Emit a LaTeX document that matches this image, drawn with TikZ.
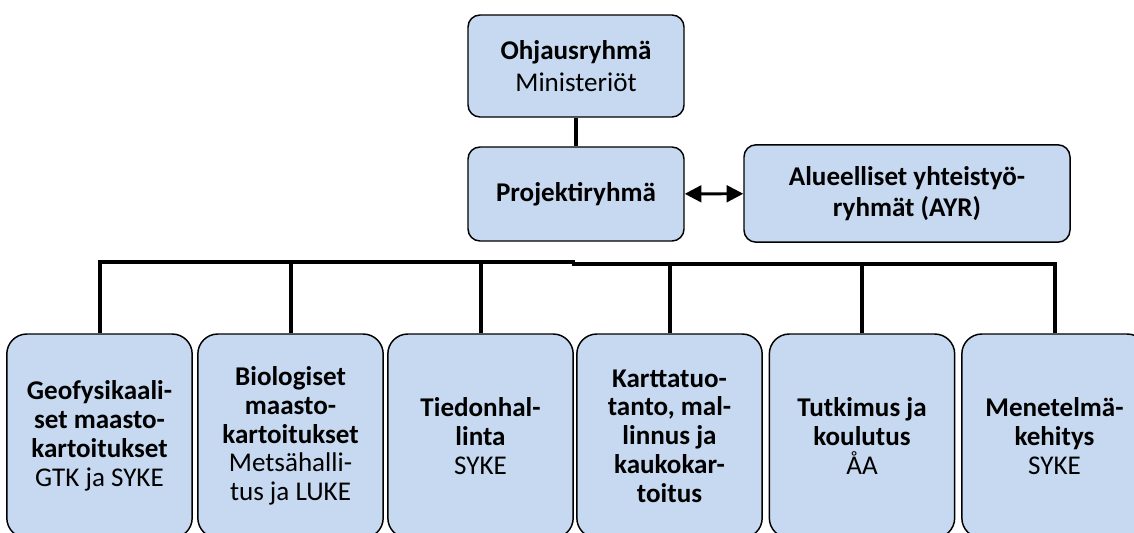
\documentclass[tikz,border=0pt]{standalone}
\usepackage{fontspec}
\setmainfont{Carlito}
\usepackage{tikz}
\definecolor{boxblue}{RGB}{198, 217, 240}
\usetikzlibrary{arrows.meta}
\tikzset{
  orgnode/.style = {align=center, inner sep=0pt, text centered,
    draw=black, line width=1.1pt, fill=boxblue, rectangle,
    font=\fontsize{20.3pt}{21.6pt}\selectfont},
  org_top/.style = {orgnode, minimum width=162pt, rounded corners=9pt,
    font=\fontsize{20.3pt}{23.5pt}\selectfont},% ylaosan laatikot
  org_sub/.style = {orgnode, minimum width=139pt, minimum height=153pt,
    rounded corners=15pt},% alaosan laatikot
  conn/.style = {line width=3pt, black},
}

\begin{document}
\begin{tikzpicture}[x=0.75pt,y=-0.75pt,>={Triangle[length=12.5pt,width=12.5pt]}]
\clip (0,0) rectangle (1134,532);
\useasboundingbox (0,0) rectangle (1134,532);

% johto
\node [org_top, minimum height=76.5pt] (ohjaus) at (576,66)
  {\textbf{Ohjausryhmä}\\Ministeriöt};
\node [org_top, minimum height=70.5pt] (projekti) at (576,194)
  {\textbf{Projektiryhmä}};
\node [org_top, minimum width=244.5pt, minimum height=73pt] (ayr) at (907,193.5)
  {\textbf{Alueelliset yhteistyö-}\\\textbf{ryhmät (AYR)}};

% osahankkeet
\node [org_sub] (geo) at (99.5,436)
  {\textbf{Geofysikaali-}\\\textbf{set maasto-}\\\textbf{kartoitukset}\\GTK ja SYKE};
\node [org_sub] (bio) at (290.5,436)
  {\textbf{Biologiset}\\\textbf{maasto-}\\\textbf{kartoitukset}\\Metsähalli-\\tus ja LUKE};
\node [org_sub] (tieto) at (480.5,436)
  {\textbf{Tiedonhal-}\\\textbf{linta}\\SYKE};
\node [org_sub] (kartta) at (669.5,436)
  {\textbf{Karttatuo-}\\\textbf{tanto, mal-}\\\textbf{linnus ja}\\\textbf{kaukokar-}\\\textbf{toitus}};
\node [org_sub] (tutk) at (862,436)
  {\textbf{Tutkimus ja}\\\textbf{koulutus}\\ÅA};
\node [org_sub] (mene) at (1054.5,436)
  {\textbf{Menetelmä-}\\\textbf{kehitys}\\SYKE};

% yhteydet
\draw [conn] (ohjaus) -- (projekti);
\draw [<->, line width=2.2pt] (projekti) -- (ayr);

\coordinate (busl) at (574.5,262);
\coordinate (busr) at (571.5,264);
\draw [conn] (geo.north) |- (busl);
\draw [conn] (mene.north) |- (busr);
\foreach \n in {bio,tieto}
  \draw [conn] (\n.north) -- (\n.north |- busl);
\foreach \n in {kartta,tutk}
  \draw [conn] (\n.north) -- (\n.north |- busr);
\end{tikzpicture}
\end{document}
